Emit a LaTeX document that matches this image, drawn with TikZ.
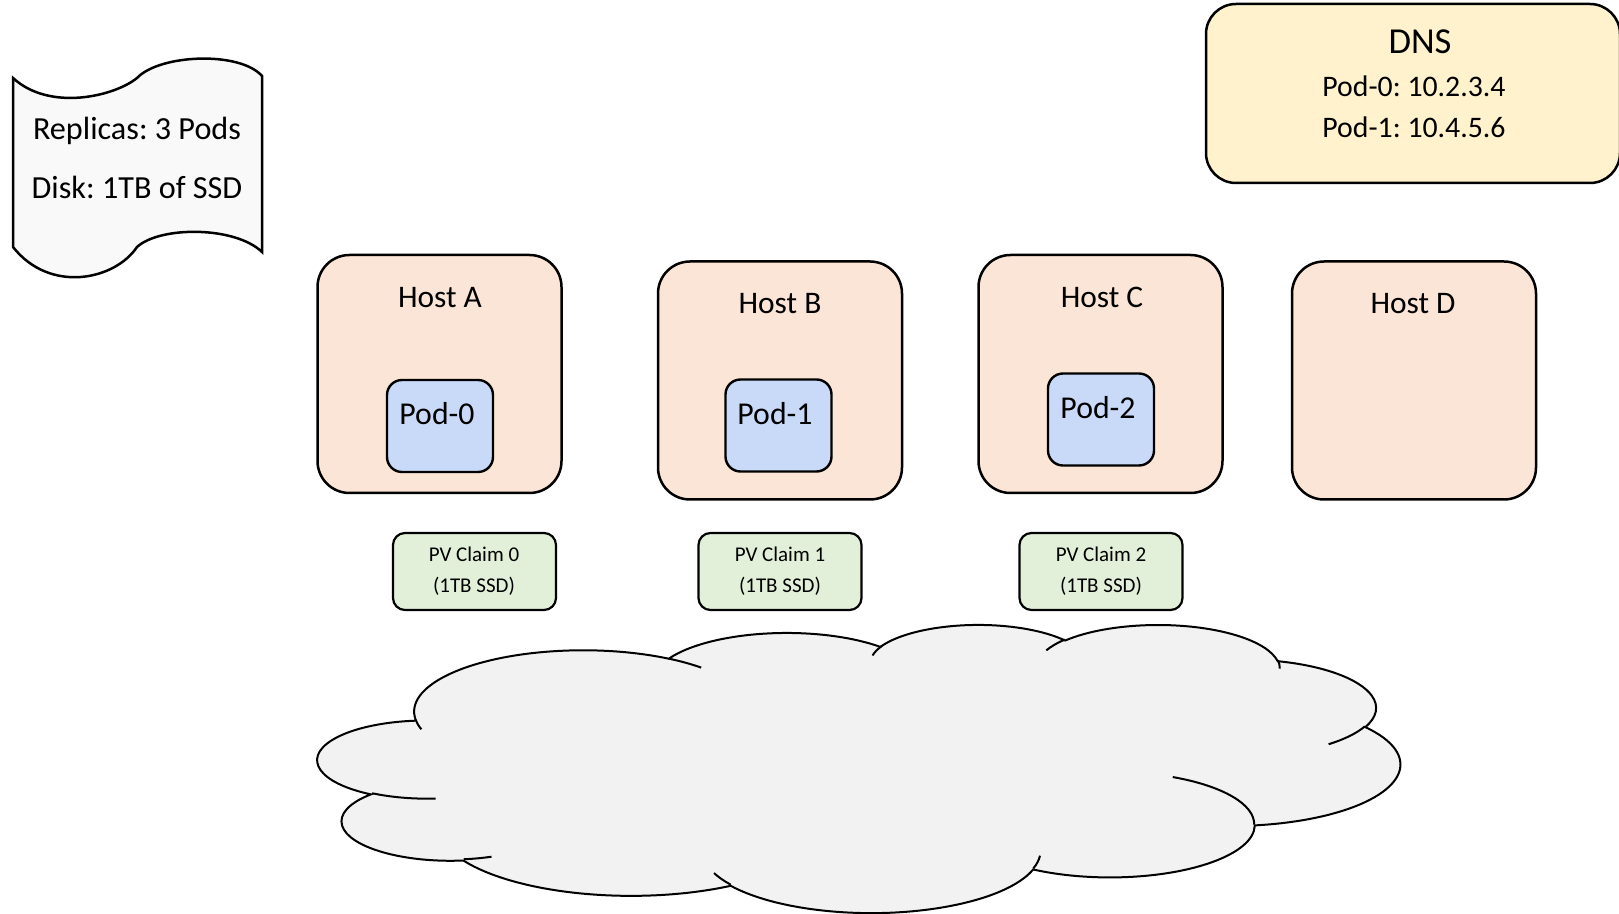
\documentclass[tikz,border=0pt]{standalone}
\usepackage{fontspec}
\setmainfont{Carlito}
\frenchspacing
\definecolor{hostfill}{HTML}{FBE5D6}
\definecolor{podfill}{HTML}{C9DAF8}
\definecolor{pvfill}{HTML}{E2F0D9}
\definecolor{dnsfill}{HTML}{FFF2CC}
\definecolor{cloudfill}{HTML}{F2F2F2}
\definecolor{docfill}{HTML}{F9F9F9}
% arc on an ellipse given DrawingML-style visual angles (degrees)
\newcommand\cloudarc[4]{arc[x radius=#1, y radius=#2,
  start angle={atan2((#1)*sin(#3),(#2)*cos(#3))},
  delta angle={mod(atan2((#1)*sin((#3)+(#4)),(#2)*cos((#3)+(#4)))-atan2((#1)*sin(#3),(#2)*cos(#3))+720,360)}]}
\begin{document}
\begin{tikzpicture}[x=0.5pt,y=-0.5pt,
  hostbox/.style={draw, line width=1.25pt, rounded corners=16pt, fill=hostfill,
    minimum width=122pt, minimum height=119pt, inner sep=0pt},
  podbox/.style={draw, line width=1.2pt, rounded corners=7.5pt, fill=podfill,
    minimum width=53pt, minimum height=46pt, inner sep=0pt},
  pvbox/.style={draw, line width=1.1pt, rounded corners=6pt, fill=pvfill,
    minimum width=81.5pt, minimum height=38.5pt, inner sep=0pt},
  dnsbox/.style={draw, line width=1.25pt, rounded corners=15pt, fill=dnsfill,
    minimum width=207pt, minimum height=89.5pt, inner sep=0pt},
  txt/.style={inner sep=0pt, anchor=base},
  hosttxt/.style={txt, font=\fontsize{15.7}{18}\selectfont},
  podtxt/.style={txt, font=\fontsize{15.9}{18}\selectfont},
  pvtxt/.style={txt, font=\fontsize{10.5}{12}\selectfont},
  doctxt/.style={txt, font=\fontsize{16.1}{18}\selectfont},
  cloudline/.style={line width=1pt}
]
\useasboundingbox (0,0) rectangle (1619,914);

% ---- specification document
\draw[line width=1.25pt, fill=docfill]
  (13,78) .. controls (50,112) and (115,96) .. (137,78)
  .. controls (160,54) and (240,51) .. (262,76)
  -- (262,252)
  .. controls (235,226) and (160,226) .. (137,247)
  .. controls (115,280) and (50,294) .. (13,247) -- cycle;
\node[doctxt] (rep) at (137,140) {Replicas: 3 Pods};
\node[doctxt] (disk) at (137,199) {Disk: 1TB of SSD};

% ---- DNS
\node[dnsbox] (dns) at (1413,93.5) {};
\node[txt, font=\fontsize{18.3}{20}\selectfont] (dnst) at (1420,54) {DNS};
\node[txt, font=\fontsize{14.9}{17}\selectfont] (dns0) at (1414,96.5) {Pod-0: 10.2.3.4};
\node[txt, font=\fontsize{14.9}{17}\selectfont] (dns1) at (1414,137.5) {Pod-1: 10.4.5.6};

% ---- hosts
\node[hostbox] (hA) at (439.5,374) {};
\node[hostbox] (hB) at (780,380.5) {};
\node[hostbox] (hC) at (1100.5,374) {};
\node[hostbox] (hD) at (1414,380.5) {};
\node[hosttxt] (hAt) at (440,307.5) {Host A};
\node[hosttxt] (hBt) at (780,313.5) {Host B};
\node[hosttxt] (hCt) at (1102,307.5) {Host C};
\node[hosttxt] (hDt) at (1413,313.5) {Host D};

% ---- pods
\node[podbox] (p0) at (440,426) {};
\node[podbox] (p1) at (778.5,425.5) {};
\node[podbox] (p2) at (1101,419.5) {};
\node[podtxt] (p0t) at (437,425) {Pod-0};
\node[podtxt] (p1t) at (775,425) {Pod-1};
\node[podtxt] (p2t) at (1098,419) {Pod-2};

% ---- PV claims
\node[pvbox] (pv0) at (474.5,571.5) {};
\node[pvbox] (pv1) at (780,571.5) {};
\node[pvbox] (pv2) at (1101,571.5) {};
\node[pvtxt] (pv0a) at (474,562) {PV Claim 0};
\node[pvtxt] (pv0b) at (474,593) {(1TB SSD)};
\node[pvtxt] (pv1a) at (780,562) {PV Claim 1};
\node[pvtxt] (pv1b) at (780,593) {(1TB SSD)};
\node[pvtxt] (pv2a) at (1101,562) {PV Claim 2};
\node[pvtxt] (pv2b) at (1101,593) {(1TB SSD)};

% ---- cloud (storage)
\begin{scope}[shift={(318,624)}, x=0.125231pt, y=-0.0333333pt]
\draw[cloudline, fill=cloudfill] (390,1437)
  \cloudarc{675.3}{919.0}{-190.4875}{123.7805}
  \cloudarc{533.3}{726.7}{-144.1024}{89.9452}
  \cloudarc{436.5}{594.5}{-145.8079}{99.7230}
  \cloudarc{485.7}{659.5}{-130.9861}{117.2417}
  \cloudarc{533.3}{727.3}{-78.7089}{109.0269}
  \cloudarc{677.5}{922.0}{-46.2673}{130.2690}
  \cloudarc{578.5}{786.7}{0.6250}{114.0333}
  \cloudarc{675.2}{921.5}{22.4516}{115.1726}
  \cloudarc{772.0}{1054.3}{66.2426}{75.7110}
  \cloudarc{436.0}{591.8}{-274.9421}{146.7356}
  \cloudarc{434.5}{594.5}{-246.8285}{152.5189}
  -- cycle;
\draw[cloudline]
  (469.3,2617.7) \cloudarc{434.5}{594.5}{86.742}{26.4295}
  (692.8,3489.9) \cloudarc{436.0}{591.8}{73.6105}{11.4475}
  (1647.8,3909.0) \cloudarc{675.2}{921.5}{137.6242}{14.0811}
  (2882.7,3475.1) \cloudarc{675.2}{921.5}{6.4533}{15.9984}
  (3412.9,2295.4) \cloudarc{578.5}{786.7}{-70.2924}{70.9174}
  (4179.8,1535.4) \cloudarc{533.3}{727.3}{30.3180}{27.7515}
  (3832.4,542.6) \cloudarc{485.7}{659.5}{-13.7443}{14.8589}
  (2907.8,395.2) \cloudarc{485.7}{659.5}{-149.1815}{18.1954}
  (2214.1,472.0) \cloudarc{436.5}{594.5}{-163.4943}{18.1954}
  (1400.0,519.2) \cloudarc{675.3}{919.0}{-66.7070}{12.3194}
  (412.7,1578.9) \cloudarc{675.3}{919.0}{157.6544}{11.8582};
\end{scope}
\end{tikzpicture}
\end{document}
